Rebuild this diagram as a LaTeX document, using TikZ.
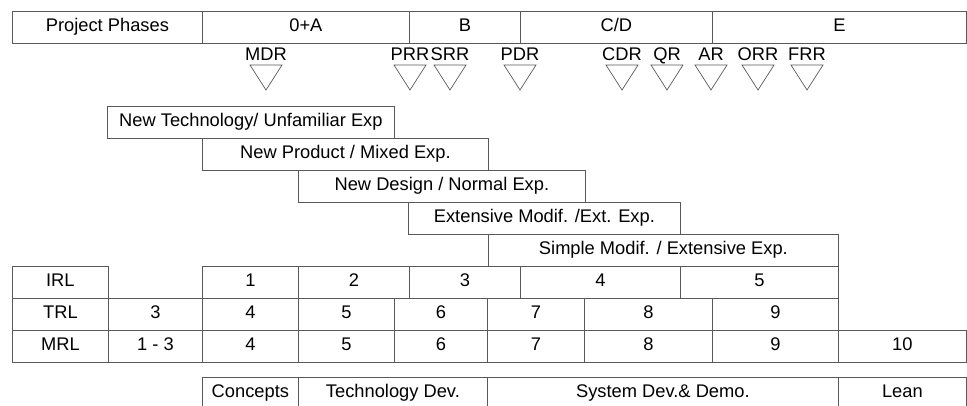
\documentclass[tikz,border=0pt]{standalone}
\usepackage{fontspec}
\setmainfont{Liberation Sans}
\begin{document}
\begin{tikzpicture}[
    x=1pt, y=-1pt,
    every node/.style={font=\fontsize{18.3}{20}\selectfont},
    cell/.style={rectangle, draw=black!65, line width=0.8pt, anchor=north west,
        minimum height=32pt, inner sep=0pt, text height=13pt, text depth=4pt},
    milestone/.style={inner sep=0pt, anchor=base},
    gate/.style={draw=black!65, line width=0.7pt}
]
    \useasboundingbox (0,0) rectangle (967,405);

    % project phases
    \foreach \xa/\xb/\txt [count=\i] in {12/202/{Project Phases}, 202/409/{0+A}, 409/520/B, 520/712/{C/D}, 712/966/E}
        \node[cell, minimum width=\xb-\xa] (phase\i) at (\xa,11) {\txt};

    % reviews
    \foreach \x/\lbl in {266/MDR, 410/PRR, 450/SRR, 520/PDR, 622/CDR, 667/QR, 711/AR, 758/ORR, 807/FRR} {
        \node[milestone] (\lbl) at (\x,60) {\lbl};
        \draw[gate] (\x-16,65) -- (\x+16,65) -- (\x,90) -- cycle;
    }

    % novelty bars
    \foreach \xa/\xb/\txt [count=\i] in {107/394/{New Technology/ Unfamiliar Exp},
        202/488/{New Product / Mixed Exp.}, 298/585/{New Design / Normal Exp.},
        408/680/{Extensive Modif. /Ext. Exp.}, 488/838/{Simple Modif. / Extensive Exp.}}
        \node[cell, minimum width=\xb-\xa] (novelty\i) at (\xa,74+32*\i) {\txt};

    % readiness levels
    \node[cell, minimum width=96] (irl) at (12,266) {IRL};
    \foreach \xa/\xb/\txt [count=\i] in {202/298/1, 298/409/2, 409/520/3, 520/680/4, 680/838/5}
        \node[cell, minimum width=\xb-\xa] (irl\i) at (\xa,266) {\txt};
    \foreach \xa/\xb/\txt [count=\i] in {12/108/TRL, 108/202/3, 202/298/4, 298/394/5,
        394/487/6, 487/584/7, 584/712/8, 712/838/9}
        \node[cell, minimum width=\xb-\xa] (trl\i) at (\xa,298) {\txt};
    \foreach \xa/\xb/\txt [count=\i] in {12/108/MRL, 108/202/{1 - 3}, 202/298/4, 298/394/5,
        394/487/6, 487/584/7, 584/712/8, 712/838/9, 838/966/10}
        \node[cell, minimum width=\xb-\xa] (mrl\i) at (\xa,330) {\txt};

    % acquisition stages
    \foreach \xa/\xb/\txt [count=\i] in {202/298/Concepts, 298/487/{Technology Dev.},
        487/838/{System Dev.\& Demo.}, 838/966/Lean}
        \node[cell, minimum width=\xb-\xa] (stage\i) at (\xa,377) {\txt};
\end{tikzpicture}
\end{document}
